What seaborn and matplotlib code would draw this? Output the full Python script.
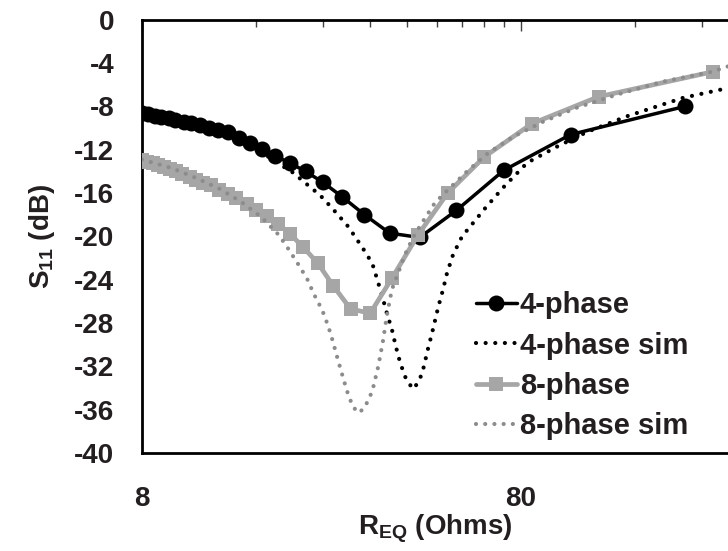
import numpy as np
import pandas as pd
import matplotlib
matplotlib.use("Agg")
import matplotlib.pyplot as plt
import seaborn as sns
from matplotlib.ticker import FixedLocator, NullFormatter

# ================= DATA =================
# 4-phase measured (R_EQ in Ohms, S11 in dB)
r_4ph = [216, 108, 72, 54, 43.2, 36, 30.9, 27, 24, 21.6, 19.6, 18, 16.6, 15.4,
         14.4, 13.5, 12.7, 12, 11.4, 10.8, 10.3, 9.8, 9.4, 9.0, 8.64, 8.3, 8.0]
s_4ph = [-8.0, -10.6, -13.9, -17.6, -20.1, -19.7, -18.0, -16.35, -15.0, -14.0,
         -13.2, -12.6, -11.9, -11.4, -10.9, -10.4, -10.15, -9.95, -9.75, -9.55,
         -9.4, -9.25, -9.1, -8.95, -8.85, -8.7, -8.6]

# 4-phase simulation
r_4sim = [8.0, 11.4, 15.4, 18.2, 20.0, 21.8, 23.6, 25.4, 28.0, 30.6, 32.4, 33.4,
          34.4, 35.4, 36.5, 37.4, 38.4, 39.8, 41.5, 42.8, 43.9, 44.6, 45.5, 46.6,
          48.3, 49.8, 51.0, 52.9, 55.9, 59.8, 64.3, 71.7, 83.0, 99.6, 119.5,
          152.3, 214, 281]
s_4sim = [-8.6, -9.7, -11.5, -13.2, -14.1, -15.2, -16.2, -17.4, -19.1, -21.1,
          -22.5, -24.0, -25.5, -27.1, -28.6, -30.2, -31.7, -33.2, -34.1, -33.5,
          -32.6, -31.6, -30.3, -28.9, -26.6, -24.9, -23.4, -21.7, -20.0, -18.75,
          -17.4, -15.5, -13.2, -11.7, -10.35, -8.9, -7.2, -6.3]

# 8-phase measured
r_8ph = [256, 128, 85.3, 64, 51.2, 42.7, 36.6, 32, 28.4, 25.6, 23.3, 21.3, 19.7,
         18.3, 17.1, 16, 15.1, 14.2, 13.5, 12.8, 12.2, 11.6, 11.1, 10.7, 10.2,
         9.85, 9.48, 9.14, 8.83, 8.53, 8.26, 8.0]
s_8ph = [-4.8, -7.1, -9.6, -12.65, -16.0, -19.9, -23.8, -27.1, -26.7, -24.6,
         -22.5, -21.0, -19.8, -18.85, -18.1, -17.55, -17.0, -16.5, -16.1, -15.7,
         -15.3, -15.1, -14.8, -14.5, -14.2, -14.0, -13.8, -13.6, -13.4, -13.2,
         -13.1, -12.9]

# 8-phase simulation
r_8sim = [8.0, 9.6, 11.1, 12.8, 14.6, 16.5, 18.4, 19.5, 20.6, 21.8, 22.7, 23.9,
          24.8, 25.5, 26.2, 27.0, 27.8, 28.8, 29.9, 31.0, 32.4, 33.6, 34.6, 35.4,
          36.5, 37.9, 39.5, 41.5, 43.9, 47.4, 51.3, 57.6, 65.5, 76.2, 91.5,
          112.4, 143.3, 189.6, 255, 281]
s_8sim = [-12.9, -13.7, -14.6, -15.6, -16.8, -18.2, -19.9, -21.2, -22.5, -23.9,
          -25.3, -26.8, -28.3, -29.7, -31.2, -32.8, -34.3, -35.75, -36.3, -35.75,
          -34.3, -32.0, -29.6, -27.3, -24.9, -23.4, -21.7, -20.1, -18.7, -16.9,
          -15.7, -14.0, -12.3, -10.8, -9.4, -8.1, -6.9, -5.7, -4.8, -4.3]

y_ticks = [0, -4, -8, -12, -16, -20, -24, -28, -32, -36, -40]
x_major = [8, 80]
x_minor = [16, 24, 32, 40, 48, 56, 64, 72, 160, 240]

TXT = "#231f20"
GRAY_MEAS = "#a6a6a6"
GRAY_SIM = "#8c8c8c"

# ================= STYLE =================
sns.set_style("white")
plt.rcParams["font.family"] = ["Liberation Sans", "DejaVu Sans"]
plt.rcParams["font.weight"] = "bold"
plt.rcParams["mathtext.default"] = "regular"

fig = plt.figure(figsize=(7.28, 5.51), dpi=100)
ax = fig.add_axes([0.195, 0.178, 0.805, 0.786])

df4 = pd.DataFrame({"R": r_4ph, "S": s_4ph})
df4s = pd.DataFrame({"R": r_4sim, "S": s_4sim})
df8 = pd.DataFrame({"R": r_8ph, "S": s_8ph})
df8s = pd.DataFrame({"R": r_8sim, "S": s_8sim})

sns.lineplot(data=df4, x="R", y="S", ax=ax, color="black", lw=2.5,
             marker="o", markersize=11.5, markeredgewidth=0, label="4-phase",
             zorder=3)
sns.lineplot(data=df4s, x="R", y="S", ax=ax, color="black", lw=3,
             linestyle=(0, (0.01, 2.3)), dash_capstyle="round",
             label="4-phase sim", zorder=4)
sns.lineplot(data=df8, x="R", y="S", ax=ax, color=GRAY_MEAS, lw=3.4,
             marker="s", markersize=10.5, markeredgewidth=0, label="8-phase",
             zorder=5)
sns.lineplot(data=df8s, x="R", y="S", ax=ax, color=GRAY_SIM, lw=3,
             linestyle=(0, (0.01, 2.2)), dash_capstyle="round",
             label="8-phase sim", zorder=6)

ax.set_xscale("log")
ax.set_xlim(8, 281)
ax.set_ylim(-40, 0)

ax.xaxis.set_major_locator(FixedLocator(x_major))
ax.xaxis.set_minor_locator(FixedLocator(x_minor))
ax.xaxis.set_minor_formatter(NullFormatter())
ax.set_xticklabels([str(v) for v in x_major])
ax.tick_params(axis="x", which="both", top=True, bottom=False,
               labelbottom=True, labeltop=False, direction="in",
               color="#404040", width=1)
ax.tick_params(axis="x", which="major", length=8, pad=24,
               labelsize=20, labelcolor=TXT)
ax.tick_params(axis="x", which="minor", length=5)

ax.set_yticks(y_ticks)
ax.set_yticklabels([str(v) for v in y_ticks])
ax.tick_params(axis="y", which="major", direction="in", length=4,
               color="#c8c8c8", width=0.8, pad=20, labelsize=20,
               labelcolor=TXT)

for side in ["left", "bottom", "top"]:
    ax.spines[side].set_color("black")
    ax.spines[side].set_linewidth(2)
ax.spines["right"].set_visible(False)

ax.set_xlabel("R$_{EQ}$ (Ohms)", fontsize=20, fontweight="bold", color=TXT,
              labelpad=0)
ax.set_ylabel("S$_{11}$ (dB)", fontsize=20, fontweight="bold", color=TXT,
              labelpad=12)

leg = ax.legend(loc="upper left", bbox_to_anchor=(0.55, 0.40),
                frameon=False, fontsize=21, handlelength=1.4,
                handletextpad=0.1, labelspacing=0.42, borderaxespad=0)
for t in leg.get_texts():
    t.set_color(TXT)
    t.set_fontweight("bold")

fig.savefig("out.png", dpi=100)
